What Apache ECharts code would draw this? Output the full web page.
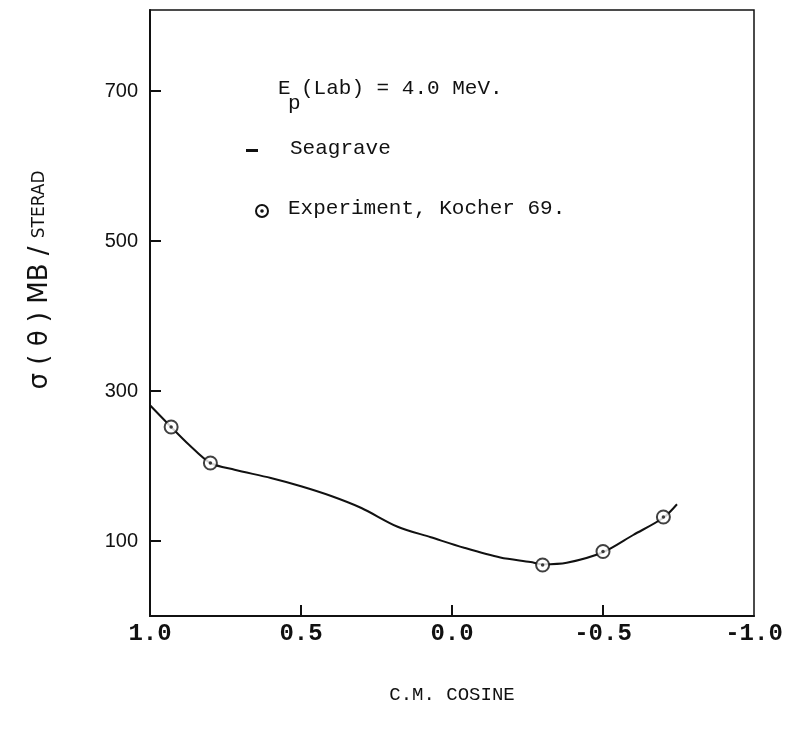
<!DOCTYPE html>
<html>
<head>
<meta charset="utf-8">
<script src="https://cdn.jsdelivr.net/npm/echarts@6/dist/echarts.min.js"></script>
<style>
html,body{margin:0;padding:0;background:#fff;}
#c{width:788px;height:736px;}
</style>
</head>
<body>
<div id="c"></div>
<script>
// Seagrave theoretical curve (C.M. cosine vs sigma, mb/sr)
var curveCos   = [1.0, 0.93, 0.87, 0.8, 0.72, 0.6, 0.5, 0.4, 0.3, 0.18, 0.07, -0.04, -0.16, -0.26, -0.3, -0.38, -0.5, -0.6, -0.7, -0.745];
var curveSigma = [281, 252, 228, 204, 195, 184, 173, 160, 144, 119, 105, 91, 78, 72, 69, 71, 85, 108, 131, 149];
// Experiment, Kocher 69
var expCos   = [0.93, 0.8, -0.3, -0.5, -0.7];
var expSigma = [252, 204, 68, 86, 132];
// axis ticks
var yTickValues = [100, 300, 500, 700];
var xTickValues = [0.5, 0.0, -0.5];

var curveData = curveCos.map(function(c, i){ return [c, curveSigma[i]]; });
var expData = expCos.map(function(c, i){ return [c, expSigma[i]]; });

var mono = 'Liberation Mono';
var chart = echarts.init(document.getElementById('c'));
chart.setOption({
  animation: false,
  backgroundColor: '#fff',
  grid: {left: 150, right: 34, top: 10, bottom: 120, show: true, borderColor: '#111', borderWidth: 1.5},
  xAxis: {
    type: 'value', inverse: true, min: -1, max: 1, interval: 0.5,
    axisLine: {show: true, onZero: false, lineStyle: {color: '#111', width: 2}},
    axisTick: {show: true, inside: true, length: 11, customValues: xTickValues, lineStyle: {color: '#111', width: 2}},
    axisLabel: {margin: 6, color: '#111', fontFamily: mono, fontSize: 24, fontWeight: 'bold',
      formatter: function(v){ return v.toFixed(1); }},
    splitLine: {show: false}
  },
  yAxis: {
    type: 'value', min: 0, max: 808,
    axisLine: {show: true, onZero: false, lineStyle: {color: '#111', width: 2}},
    axisTick: {show: true, inside: true, length: 11, customValues: yTickValues, lineStyle: {color: '#111', width: 2}},
    axisLabel: {margin: 12, color: '#111', fontFamily: 'Liberation Sans', fontSize: 20, customValues: yTickValues},
    splitLine: {show: false}
  },
  series: [
    {type: 'line', name: 'Seagrave', data: curveData, smooth: 0.3, showSymbol: false,
      lineStyle: {color: '#111', width: 2}, z: 2},
    {type: 'scatter', name: 'Experiment, Kocher 69.', data: expData, symbol: 'emptyCircle', symbolSize: 13,
      itemStyle: {color: '#111', borderColor: '#111', borderWidth: 2}, z: 3},
    {type: 'scatter', name: 'dot', data: expData, symbol: 'circle', symbolSize: 3.5,
      itemStyle: {color: '#111'}, z: 4}
  ],
  graphic: [
    {type: 'text', left: 278, top: 78, style: {text: 'E', font: '21px "Liberation Mono"', fill: '#111'}},
    {type: 'text', left: 288, top: 93, style: {text: 'p', font: '21px "Liberation Mono"', fill: '#111'}},
    {type: 'text', left: 301, top: 78, style: {text: '(Lab) = 4.0 MeV.', font: '21px "Liberation Mono"', fill: '#111'}},
    {type: 'rect', shape: {x: 246, y: 149, width: 12, height: 3}, style: {fill: '#111'}},
    {type: 'text', left: 290, top: 138, style: {text: 'Seagrave', font: '21px "Liberation Mono"', fill: '#111'}},
    {type: 'circle', shape: {cx: 262, cy: 211, r: 6}, style: {fill: '#fff', stroke: '#111', lineWidth: 2}},
    {type: 'circle', shape: {cx: 262, cy: 211, r: 1.8}, style: {fill: '#111'}},
    {type: 'text', left: 288, top: 198, style: {text: 'Experiment, Kocher 69.', font: '21px "Liberation Mono"', fill: '#111'}},
    {type: 'text', x: 40, y: 280, rotation: Math.PI / 2,
      style: {text: '{a|σ ( θ ) MB / }{b|STERAD}', align: 'center', verticalAlign: 'middle', fill: '#111',
        rich: {a: {fontFamily: 'DejaVu Sans', fontSize: 26, fill: '#111'}, b: {fontFamily: 'DejaVu Sans', fontSize: 17, fill: '#111'}}}},
    {type: 'text', x: 452, y: 695, style: {text: 'C.M. COSINE', align: 'center', verticalAlign: 'middle',
      font: '19px "Liberation Mono"', fill: '#111'}}
  ]
});
</script>
</body>
</html>
